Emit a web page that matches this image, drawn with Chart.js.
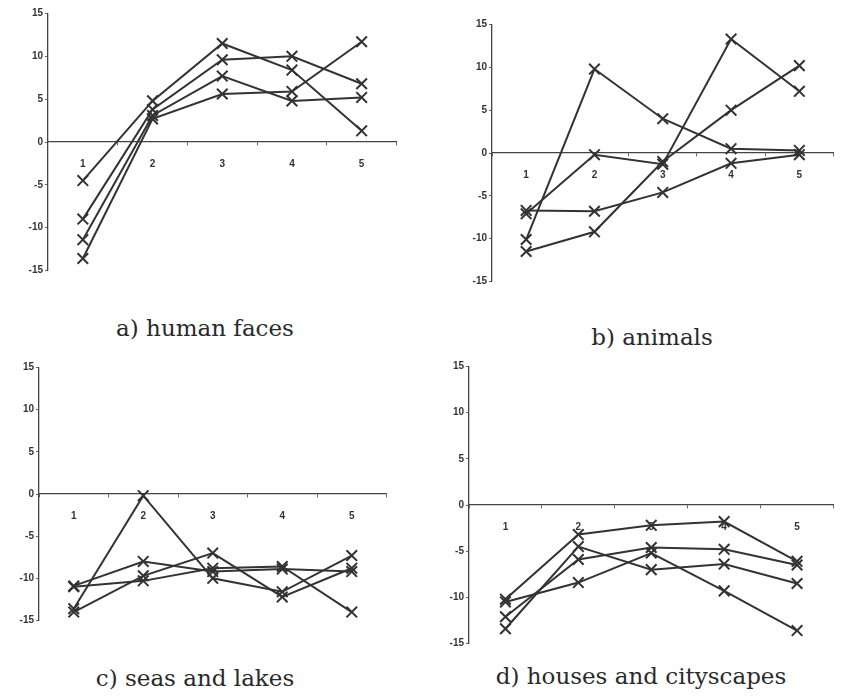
<!DOCTYPE html>
<html>
<head>
<meta charset="utf-8">
<script src="https://cdn.jsdelivr.net/npm/chart.js@4"></script>
<style>
  body { margin: 0; background: #fff; width: 843px; height: 698px; position: relative; overflow: hidden; }
  .panel { position: absolute; }
  .cap { position: absolute; font-family: "DejaVu Serif", serif; font-size: 23px; color: #2a2a2a; white-space: nowrap; transform: translate(-50%, -50%); }
</style>
</head>
<body>
<div class="panel" id="pa"><canvas id="ca"></canvas></div>
<div class="panel" id="pb"><canvas id="cb"></canvas></div>
<div class="panel" id="pc"><canvas id="cc"></canvas></div>
<div class="panel" id="pd"><canvas id="cd"></canvas></div>

<div class="cap" style="left:205px; top:328px">a) human faces</div>
<div class="cap" style="left:652px; top:337px">b) animals</div>
<div class="cap" style="left:195px; top:678px">c) seas and lakes</div>
<div class="cap" style="left:641px; top:676px">d) houses and cityscapes</div>

<script>
// x categories and y ticks shared by all four panels
const categories = ['1', '2', '3', '4', '5'];
const yMin = -15, yMax = 15, yStep = 5;

// a) human faces
const faces1 = [-4.5, 4.8, 11.5, 8.4, 1.3];
const faces2 = [-9.0, 3.8, 9.6, 10.0, 6.8];
const faces3 = [-11.4, 3.1, 7.7, 4.8, 5.2];
const faces4 = [-13.6, 2.7, 5.6, 5.9, 11.7];

// b) animals
const animals1 = [-6.7, -6.8, -4.6, -1.2, -0.2];
const animals2 = [-11.5, -9.2, -1.0, 5.0, 10.2];
const animals3 = [-7.1, -0.2, -1.3, 13.3, 7.2];
const animals4 = [-10.1, 9.8, 4.0, 0.5, 0.3];

// c) seas and lakes
const seas1 = [-13.6, -0.2, -10.0, -11.6, -7.3];
const seas2 = [-10.9, -8.0, -9.2, -8.9, -9.2];
const seas3 = [-11.0, -10.3, -8.8, -8.6, -14.0];
const seas4 = [-14.0, -9.7, -7.0, -12.2, -8.8];

// d) houses and cityscapes
const houses1 = [-10.2, -3.2, -2.2, -1.8, -6.1];
const houses2 = [-12.1, -5.9, -4.6, -4.8, -6.5];
const houses3 = [-10.5, -8.4, -5.2, -9.3, -13.6];
const houses4 = [-13.4, -4.5, -7.0, -6.4, -8.5];

const INK = '#333';
const Y_AXIS_W = 30;
const PAD_TOP = 8, PAD_BOTTOM = 8;

// place a panel so that its plot area lands on the given box
function makePanel(id, box, seriesList) {
  const el = document.getElementById('p' + id);
  const left = box.axisX - Y_AXIS_W;
  const padRight = box.right >= 843 ? 0 : 6;
  el.style.left = left + 'px';
  el.style.top = (box.top - PAD_TOP) + 'px';
  el.style.width = (box.right - left + padRight) + 'px';
  el.style.height = (box.bottom - box.top + PAD_TOP + PAD_BOTTOM) + 'px';

  new Chart(document.getElementById('c' + id), {
    type: 'line',
    data: {
      labels: categories,
      datasets: seriesList.map(s => ({
        data: s,
        borderColor: INK,
        borderWidth: 2,
        pointStyle: 'crossRot',
        pointRadius: 7.5,
        pointBorderWidth: 2,
        pointBorderColor: INK,
        tension: 0,
        fill: false
      }))
    },
    options: {
      responsive: true,
      maintainAspectRatio: false,
      animation: false,
      layout: { padding: { top: PAD_TOP, bottom: PAD_BOTTOM, right: padRight, left: 0 } },
      plugins: { legend: { display: false }, tooltip: { enabled: false } },
      scales: {
        x: {
          type: 'category',
          position: { y: 0 },
          offset: true,
          afterFit: s => { s.height = 0; },
          border: { display: true, color: '#444', width: 1.3 },
          grid: { display: true, drawOnChartArea: false, drawTicks: true, tickLength: 3, color: '#666', offset: true },
          ticks: { color: '#333', padding: 13, font: { family: 'Liberation Sans', size: 10, weight: 'bold' } }
        },
        y: {
          min: yMin,
          max: yMax,
          afterFit: s => { s.width = Y_AXIS_W; },
          border: { display: true, color: '#444', width: 1.3 },
          grid: { display: true, drawOnChartArea: false, drawTicks: true, tickLength: 3, color: '#666' },
          ticks: { stepSize: yStep, color: '#333', padding: 2, font: { family: 'Liberation Sans', size: 10, weight: 'bold' } }
        }
      }
    }
  });
}

makePanel('a', { axisX: 48, top: 12, bottom: 272, right: 400 }, [faces1, faces2, faces3, faces4]);
makePanel('b', { axisX: 492, top: 23, bottom: 283, right: 843 }, [animals1, animals2, animals3, animals4]);
makePanel('c', { axisX: 39, top: 366, bottom: 622, right: 390 }, [seas1, seas2, seas3, seas4]);
makePanel('d', { axisX: 469, top: 365, bottom: 645, right: 843 }, [houses1, houses2, houses3, houses4]);
</script>
</body>
</html>
